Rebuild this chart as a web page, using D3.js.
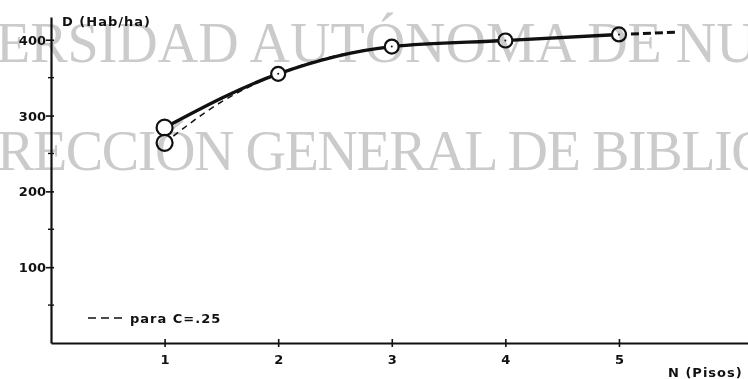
<!DOCTYPE html>
<html>
<head>
<meta charset="utf-8">
<script src="https://cdn.jsdelivr.net/npm/d3@7"></script>
<style>
  body { margin: 0; background: #fff; }
  svg { display: block; }
  .lbl { font-family: "DejaVu Sans", sans-serif; font-weight: bold; font-size: 13px; fill: #111; }
  .wm { font-family: "Liberation Serif", serif; font-size: 56px; fill: #cbcbcb; }
</style>
</head>
<body>
<div id="chart"></div>
<script>
// N (pisos) and density D (Hab/ha)
const pisos = [1, 2, 3, 4, 5];
const densidad = [284, 355, 391, 399, 407];
// continuation drawn dashed past the last floor
const extN = [5, 5.5];
const extD = [407, 410];
// curve for C = .25
const c25N = [1, 1.5, 2, 3, 4, 5];
const c25D = [264, 318, 355, 391, 399, 407];
const yTicks = [100, 200, 300, 400];
const yMinor = [50, 150, 250, 350];
const xTicks = [1, 2, 3, 4, 5];
const watermark = ['ERSIDAD AUTÓNOMA DE NU', 'RECCIÓN GENERAL DE BIBLIO'];

const width = 748, height = 379;
const margin = {top: 15, right: 0, bottom: 36, left: 51};

const svg = d3.select('#chart').append('svg')
  .attr('width', width)
  .attr('height', height);

const x = d3.scaleLinear()
  .domain([0, 6.136])
  .range([margin.left, width - margin.right]);

const y = d3.scaleLinear()
  .domain([0, 430])
  .range([height - margin.bottom, 17]);

const g = svg.append('g');

// y axis
const yAxis = g.append('g')
  .attr('transform', `translate(${margin.left},0)`)
  .call(d3.axisLeft(y).tickValues(yTicks).tickFormat(d3.format('d')).tickSize(0).tickPadding(5));
yAxis.select('.domain').attr('stroke', '#111').attr('stroke-width', 2.2);
yAxis.selectAll('text').attr('class', 'lbl').attr('dy', '0.35em');
yAxis.selectAll('.tick').append('line').attr('x1', -5).attr('x2', 3).attr('stroke', '#111').attr('stroke-width', 1.6);
yAxis.selectAll('.minor')
  .data(yMinor)
  .enter().append('line')
  .attr('x1', -3).attr('x2', 3)
  .attr('y1', d => y(d)).attr('y2', d => y(d))
  .attr('stroke', '#111').attr('stroke-width', 1.4);

// x axis
const xAxis = g.append('g')
  .attr('transform', `translate(0,${y(0)})`)
  .call(d3.axisBottom(x).tickValues(xTicks).tickFormat(d3.format('d')).tickSize(0).tickPadding(16));
xAxis.select('.domain').attr('stroke', '#111').attr('stroke-width', 2.2);
xAxis.selectAll('text').attr('class', 'lbl').attr('dy', '0.35em');
xAxis.selectAll('.tick').append('line').attr('y1', -4).attr('y2', 4).attr('stroke', '#111').attr('stroke-width', 1.6);

// axis titles
g.append('text').attr('class', 'lbl').attr('x', 62).attr('y', 26).style('letter-spacing', '1px').text('D (Hab/ha)');
g.append('text').attr('class', 'lbl').attr('x', 668).attr('y', 377).style('letter-spacing', '1px').text('N (Pisos)');

const line = d3.line()
  .x(d => x(d[0]))
  .y(d => y(d[1]))
  .curve(d3.curveMonotoneX);

// C = .25 dashed curve
g.append('path')
  .datum(d3.zip(c25N, c25D))
  .attr('d', line)
  .attr('fill', 'none')
  .attr('stroke', '#111')
  .attr('stroke-width', 1.5)
  .attr('stroke-dasharray', '6,5');

// main curve
g.append('path')
  .datum(d3.zip(pisos, densidad))
  .attr('d', line)
  .attr('fill', 'none')
  .attr('stroke', '#111')
  .attr('stroke-width', 3.4);

g.append('path')
  .datum(d3.zip(extN, extD))
  .attr('d', line)
  .attr('fill', 'none')
  .attr('stroke', '#111')
  .attr('stroke-width', 3)
  .attr('stroke-dasharray', '8,4');

// markers
g.selectAll('.pt')
  .data(d3.zip(pisos, densidad))
  .enter().append('circle')
  .attr('cx', d => x(d[0]))
  .attr('cy', d => y(d[1]))
  .attr('r', (d, i) => i === 0 ? 8 : 7)
  .attr('fill', '#fff')
  .attr('stroke', '#111')
  .attr('stroke-width', 2.2);

g.selectAll('.dot')
  .data(d3.zip(pisos, densidad).slice(1))
  .enter().append('circle')
  .attr('cx', d => x(d[0]))
  .attr('cy', d => y(d[1]))
  .attr('r', 1)
  .attr('fill', '#111');

g.append('circle')
  .attr('cx', x(c25N[0]))
  .attr('cy', y(c25D[0]))
  .attr('r', 8)
  .attr('fill', '#fff')
  .attr('stroke', '#111')
  .attr('stroke-width', 2.2);

// legend
g.append('line')
  .attr('x1', 88).attr('x2', 124).attr('y1', 318).attr('y2', 318)
  .attr('stroke', '#111').attr('stroke-width', 1.5).attr('stroke-dasharray', '8,5');
g.append('text').attr('class', 'lbl').attr('x', 130).attr('y', 323).style('letter-spacing', '1px').text('para C=.25');

// scanned watermark on top
const wm = svg.append('g').style('mix-blend-mode', 'multiply');
wm.selectAll('text')
  .data(watermark)
  .enter().append('text')
  .attr('class', 'wm')
  .attr('x', (d, i) => i === 0 ? -4 : -3)
  .attr('y', (d, i) => i === 0 ? 62 : 170)
  .style('letter-spacing', (d, i) => i === 0 ? '0px' : '-1.4px')
  .text(d => d);
</script>
</body>
</html>
